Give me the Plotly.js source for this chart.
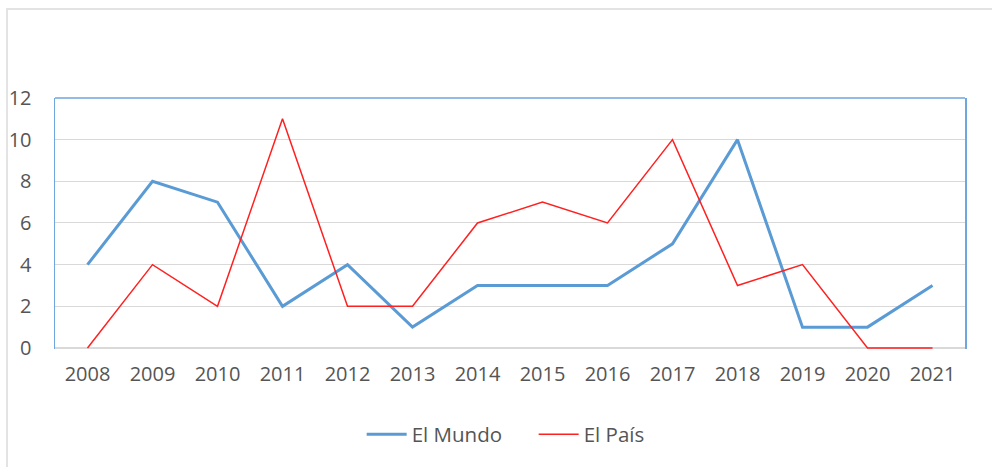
<!DOCTYPE html>
<html>
<head>
<meta charset="utf-8">
<script src="https://cdn.plot.ly/plotly-3.0.1.min.js"></script>
<style>
html, body { margin:0; padding:0; background:#fff; }
#chart { position:absolute; left:0; top:0; width:992px; height:467px; }
#frame { position:absolute; left:6px; top:8px; width:990px; height:470px;
  border-left:2px solid #e3e3e3; border-top:2px solid #e3e3e3; pointer-events:none; }
</style>
</head>
<body>
<div id="chart"></div>
<div id="frame"></div>
<script>
const years = ["2008","2009","2010","2011","2012","2013","2014","2015","2016","2017","2018","2019","2020","2021"];
const elMundo = [4, 8, 7, 2, 4, 1, 3, 3, 3, 5, 10, 1, 1, 3];
const elPais  = [0, 4, 2, 11, 2, 2, 6, 7, 6, 10, 3, 4, 0, 0];
const yTicks = [0, 2, 4, 6, 8, 10, 12];

const traces = [
  { x: years, y: elMundo, type: 'scatter', mode: 'lines', name: 'El Mundo',
    line: { color: '#5b9bd5', width: 3 } },
  { x: years, y: elPais, type: 'scatter', mode: 'lines', name: 'El País',
    line: { color: '#ff2020', width: 1.5 } }
];

const layout = {
  width: 992, height: 467,
  margin: { l: 55, r: 27, t: 98, b: 118 },
  paper_bgcolor: '#ffffff', plot_bgcolor: '#ffffff',
  font: { family: '"Open Sans", "Noto Sans", sans-serif', color: '#555555', size: 20 },
  showlegend: true,
  legend: { orientation: 'h', x: 0.337, xanchor: 'left', y: -0.34, yanchor: 'middle',
            font: { size: 20.5, color: '#555555' }, itemwidth: 40,
            entrywidth: 117, entrywidthmode: 'pixels' },
  xaxis: { type: 'category', range: [-0.5, 13.5], showgrid: false, showline: false,
           zeroline: false, ticks: '', ticklabelstandoff: 11, fixedrange: true },
  yaxis: { range: [-0.05, 12], tickvals: yTicks, ticktext: yTicks.map(String),
           showgrid: true, gridcolor: '#d9d9d9', gridwidth: 1,
           zeroline: true, zerolinecolor: '#d9d9d9', zerolinewidth: 1.5,
           showline: true, mirror: true, linecolor: '#6fa6dc', linewidth: 1.5,
           ticks: '', ticklabelstandoff: 18, fixedrange: true },
  shapes: [
    { type: 'line', xref: 'paper', yref: 'paper', x0: 0, x1: 1, y0: 1, y1: 1,
      line: { color: '#6fa6dc', width: 1.5 } }
  ]
};

Plotly.newPlot('chart', traces, layout, { displayModeBar: false, staticPlot: true });
</script>
</body>
</html>
